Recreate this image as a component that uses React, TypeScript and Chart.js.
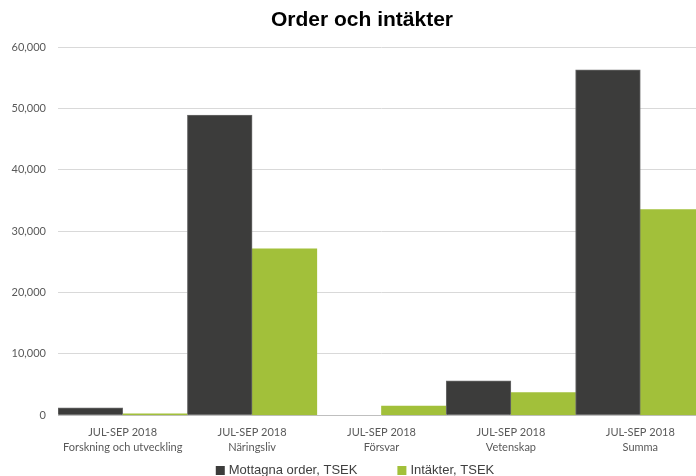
import React, { useEffect, useRef } from "react";
import { Chart, registerables } from "chart.js";

Chart.register(...registerables);

const periods = ["JUL-SEP 2018", "JUL-SEP 2018", "JUL-SEP 2018", "JUL-SEP 2018", "JUL-SEP 2018"];
const segments = ["Forskning och utveckling", "Näringsliv", "Försvar", "Vetenskap", "Summa"];
const ordersTSEK = [1200, 48900, 0, 5600, 56300];
const revenueTSEK = [250, 27100, 1500, 3700, 33500];
const seriesNames = ["Mottagna order, TSEK", "Intäkter, TSEK"];
const titleText = "Order och intäkter";
const yMax = 60000;
const yStep = 10000;

const DARK = "#3c3c3b";
const GREEN = "#a2c03a";

const titlePlugin = {
  id: "customTitle",
  afterDraw(chart: any) {
    const ctx = chart.ctx;
    ctx.save();
    ctx.font = "bold 21px 'Liberation Sans', Arial, sans-serif";
    ctx.fillStyle = "#000000";
    ctx.textAlign = "center";
    ctx.textBaseline = "middle";
    ctx.fillText(titleText, 362, 20.5);
    ctx.restore();
  },
};

const legendPlugin = {
  id: "customLegend",
  afterDraw(chart: any) {
    const ctx = chart.ctx;
    ctx.save();
    ctx.font = "13px 'Liberation Sans', Arial, sans-serif";
    ctx.textBaseline = "middle";
    ctx.textAlign = "left";
    const box = 9;
    const gap = 4;
    const spacing = 40;
    const items = chart.data.datasets.map((d: any) => ({
      label: d.label,
      color: d.backgroundColor,
      w: box + gap + ctx.measureText(d.label).width,
    }));
    const total = items.reduce((s: number, it: any) => s + it.w, 0) + spacing * (items.length - 1);
    let x = 355 - total / 2;
    const y = 470.5;
    items.forEach((it: any) => {
      ctx.fillStyle = it.color;
      ctx.fillRect(x, y - box / 2, box, box);
      ctx.fillStyle = "#404040";
      ctx.fillText(it.label, x + box + gap, y);
      x += it.w + spacing;
    });
    ctx.restore();
  },
};

export default function App() {
  const ref = useRef<HTMLCanvasElement>(null);
  useEffect(() => {
    if (!ref.current) return;
    const chart = new Chart(ref.current, {
      type: "bar",
      data: {
        labels: periods.map((p, i) => [p, segments[i]]),
        datasets: [
          {
            label: seriesNames[0],
            data: ordersTSEK,
            backgroundColor: DARK,
            borderColor: "#6a6a6a",
            borderWidth: 1,
            categoryPercentage: 1,
            barPercentage: 1,
          },
          {
            label: seriesNames[1],
            data: revenueTSEK,
            backgroundColor: GREEN,
            borderWidth: 0,
            categoryPercentage: 1,
            barPercentage: 1,
          },
        ],
      },
      plugins: [titlePlugin, legendPlugin],
      options: {
        animation: false,
        responsive: false,
        devicePixelRatio: 1,
        layout: { padding: { top: 47, bottom: 11, left: 0, right: 0 } },
        plugins: {
          legend: { display: false },
          title: { display: false },
          tooltip: { enabled: false },
        },
        scales: {
          x: {
            grid: { display: false, drawTicks: false },
            border: { display: false },
            ticks: {
              color: "#595959",
              font: { family: "Lato, 'Open Sans', sans-serif", size: 11, lineHeight: 1.35 },
              padding: 10,
              maxRotation: 0,
              autoSkip: false,
            },
          },
          y: {
            min: 0,
            max: yMax,
            afterFit(scale: any) {
              scale.width = 58;
            },
            grid: {
              drawTicks: false,
              color: (c: any) => (c.tick && c.tick.value === 0 ? "#bfbfbf" : "#d9d9d9"),
            },
            border: { display: false },
            ticks: {
              stepSize: yStep,
              padding: 12,
              color: "#595959",
              font: { family: "Lato, 'Open Sans', sans-serif", size: 11 },
              callback: (v: any) => Number(v).toLocaleString("en-US"),
            },
          },
        },
      },
    });
    return () => chart.destroy();
  }, []);
  return (
    <div style={{ position: "fixed", left: 0, top: 0, width: 696, height: 476, overflow: "hidden", background: "#fff" }}>
      <canvas ref={ref} width={705} height={476} style={{ width: 705, height: 476, display: "block" }} />
    </div>
  );
}
